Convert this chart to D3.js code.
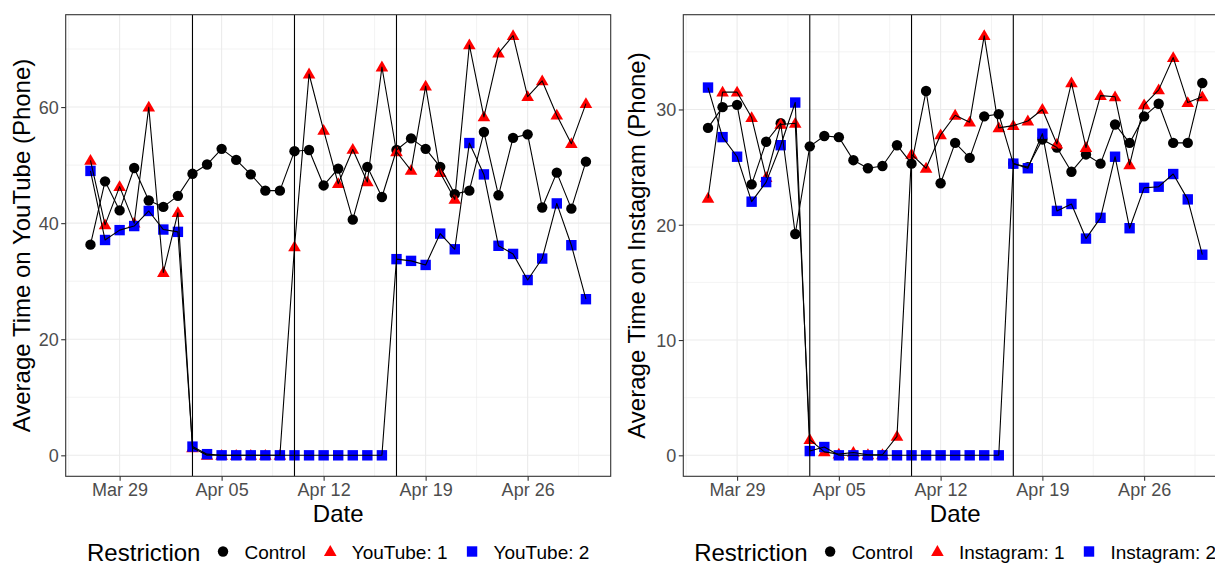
<!DOCTYPE html>
<html><head><meta charset="utf-8">
<script src="https://cdn.jsdelivr.net/npm/d3@7"></script>
<style>
body{margin:0;background:#fff;}
svg{display:block;}
text{font-family:"Liberation Sans",Arial,Helvetica,sans-serif;}
</style>
</head><body>
<svg id="c" width="1215" height="566"></svg>
<script>
// ---------- data ----------
const dates = ["2020-03-27","2020-03-28","2020-03-29","2020-03-30","2020-03-31",
"2020-04-01","2020-04-02","2020-04-03","2020-04-04","2020-04-05","2020-04-06","2020-04-07",
"2020-04-08","2020-04-09","2020-04-10","2020-04-11","2020-04-12","2020-04-13","2020-04-14",
"2020-04-15","2020-04-16","2020-04-17","2020-04-18","2020-04-19","2020-04-20","2020-04-21",
"2020-04-22","2020-04-23","2020-04-24","2020-04-25","2020-04-26","2020-04-27","2020-04-28",
"2020-04-29","2020-04-30"];
const xTickDates = ["2020-03-29","2020-04-05","2020-04-12","2020-04-19","2020-04-26"];
const xTickLabels = ["Mar 29","Apr 05","Apr 12","Apr 19","Apr 26"];
const restrictionDates = ["2020-04-03","2020-04-10","2020-04-17"];

const ytControl = [36.3,47.2,42.2,49.5,43.9,42.8,44.7,48.5,50.1,52.8,50.9,48.4,45.6,45.6,52.4,52.6,46.5,49.4,40.6,49.7,44.5,52.6,54.6,52.8,49.7,45.0,45.6,55.7,44.8,54.7,55.3,42.7,48.7,42.5,50.6];
const yt1 = [50.8,39.7,46.3,40.0,60.0,31.5,41.8,1.3,0,0,0,0,0,0,35.9,65.7,56.0,46.8,52.7,47.1,66.9,52.3,49.1,63.6,48.7,44.1,70.7,58.3,69.3,72.3,61.8,64.5,58.6,53.7,60.6];
const yt2 = [49.0,37.1,38.8,39.5,42.1,38.9,38.5,1.5,0.2,0,0,0,0,0,0,0,0,0,0,0,0,33.8,33.5,32.8,38.2,35.5,53.8,48.4,36.1,34.7,30.2,33.9,43.4,36.2,26.9];

const igControl = [28.4,30.2,30.4,23.5,27.2,28.8,19.2,26.8,27.7,27.6,25.6,24.9,25.1,26.9,25.3,31.6,23.6,27.1,25.8,29.4,29.6,25.3,25.0,27.4,26.7,24.6,26.1,25.3,28.7,27.1,29.4,30.5,27.1,27.1,32.3];
const ig1 = [22.3,31.5,31.5,29.3,24.1,28.7,28.8,1.36,0.3,0.1,0.25,0.05,0.05,1.65,26.1,24.9,27.8,29.5,28.9,36.4,28.4,28.6,29.0,30.0,27.0,32.3,26.7,31.2,31.1,25.2,30.4,31.7,34.5,30.6,31.1];
const ig2 = [31.9,27.6,25.9,22.0,23.7,26.9,30.6,0.37,0.72,0,0,0,0,0,0,0,0,0,0,0,0,25.3,24.9,27.9,21.2,21.8,18.8,20.6,25.9,19.7,23.2,23.3,24.4,22.2,17.4];

const ytLabels = ["Control","YouTube: 1","YouTube: 2"];
const igLabels = ["Control","Instagram: 1","Instagram: 2"];
const ytYTicks = [0,20,40,60];
const igYTicks = [0,10,20,30];
const legendTitle = "Restriction";
const xTitle = "Date";
const ytTitle = "Average Time on YouTube (Phone)";
const igTitle = "Average Time on Instagram (Phone)";

// ---------- drawing ----------
const svg = d3.select("#c");
const parse = d3.utcParse("%Y-%m-%d");
const shapes = ["circle","triangle","square"];
const colors = ["#000000","#FF0000","#0000FF"];

function drawSymbol(g, shape, cx, cy, color){
  if(shape==="circle"){
    g.append("circle").attr("cx",cx).attr("cy",cy).attr("r",5.2).attr("fill",color);
  } else if(shape==="triangle"){
    g.append("path").attr("d",`M${cx},${cy-6.4}L${cx+6.3},${cy+4.4}L${cx-6.3},${cy+4.4}Z`).attr("fill",color);
  } else {
    g.append("rect").attr("x",cx-5.2).attr("y",cy-5.2).attr("width",10.4).attr("height",10.4).attr("fill",color);
  }
}

function drawPanel(cfg, idx){
  const xd = dates.map(parse);
  const x0 = d3.min(xd), x1 = d3.max(xd), span = x1 - x0;
  const x = d3.scaleUtc()
    .domain([new Date(+x0 - span*0.05), new Date(+x1 + span*0.05)])
    .range([cfg.left, cfg.right]);
  const all = cfg.series.flat();
  const ymin = d3.min(all), ymax = d3.max(all), yr = ymax - ymin;
  const y = d3.scaleLinear().domain([ymin - yr*0.05, ymax + yr*0.05]).range([cfg.bottom, cfg.top]);

  const clipId = "clip"+idx;
  svg.append("clipPath").attr("id",clipId).append("rect")
    .attr("x",cfg.left).attr("y",cfg.top).attr("width",cfg.right-cfg.left).attr("height",cfg.bottom-cfg.top);

  const grid = svg.append("g").attr("clip-path",`url(#${clipId})`);
  const ticks = xTickDates.map(parse);
  const half = (ticks[1]-ticks[0])/2;
  const xMinor = [new Date(+ticks[0]-half), ...ticks.map(t=>new Date(+t+half))];
  const ystep = cfg.yTicks[1]-cfg.yTicks[0];
  const yMinor = [cfg.yTicks[0]-ystep/2, ...cfg.yTicks.map(t=>t+ystep/2)];
  grid.selectAll(".xmin").data(xMinor).join("line")
    .attr("x1",d=>x(d)).attr("x2",d=>x(d)).attr("y1",cfg.top).attr("y2",cfg.bottom)
    .attr("stroke","#EBEBEB").attr("stroke-width",0.6);
  grid.selectAll(".ymin").data(yMinor).join("line")
    .attr("x1",cfg.left).attr("x2",cfg.right).attr("y1",d=>y(d)).attr("y2",d=>y(d))
    .attr("stroke","#EBEBEB").attr("stroke-width",0.6);
  grid.selectAll(".xmaj").data(ticks).join("line")
    .attr("x1",d=>x(d)).attr("x2",d=>x(d)).attr("y1",cfg.top).attr("y2",cfg.bottom)
    .attr("stroke","#EBEBEB").attr("stroke-width",1.1);
  grid.selectAll(".ymaj").data(cfg.yTicks).join("line")
    .attr("x1",cfg.left).attr("x2",cfg.right).attr("y1",d=>y(d)).attr("y2",d=>y(d))
    .attr("stroke","#EBEBEB").attr("stroke-width",1.1);

  const plot = svg.append("g").attr("clip-path",`url(#${clipId})`);
  cfg.series.forEach((vals,si)=>{
    const g = plot.append("g");
    vals.forEach((v,i)=>drawSymbol(g, shapes[si], x(xd[i]), y(v), colors[si]));
  });
  const line = d3.line().x((d,i)=>x(xd[i])).y(d=>y(d));
  cfg.series.forEach(vals=>{
    plot.append("path").datum(vals).attr("d",line).attr("fill","none")
      .attr("stroke","#000").attr("stroke-width",1.1).attr("stroke-linejoin","round");
  });
  plot.selectAll(".vl").data(restrictionDates.map(parse)).join("line")
    .attr("x1",d=>x(d)).attr("x2",d=>x(d)).attr("y1",cfg.top).attr("y2",cfg.bottom)
    .attr("stroke","#000").attr("stroke-width",1.1);

  svg.append("rect").attr("x",cfg.left).attr("y",cfg.top)
    .attr("width",cfg.right-cfg.left).attr("height",cfg.bottom-cfg.top)
    .attr("fill","none").attr("stroke","#333333").attr("stroke-width",1.1);

  const ax = svg.append("g").attr("transform",`translate(0,${cfg.bottom})`)
    .call(d3.axisBottom(x).tickValues(ticks).tickSize(4.5).tickPadding(2.4)
      .tickFormat((d,i)=>xTickLabels[i]));
  const ay = svg.append("g").attr("transform",`translate(${cfg.left},0)`)
    .call(d3.axisLeft(y).tickValues(cfg.yTicks).tickSize(4.5).tickPadding(2.5).tickFormat(d3.format("d")));
  [ax,ay].forEach(a=>{
    a.select(".domain").remove();
    a.attr("font-family",null).attr("font-size",null);
    a.selectAll("line").attr("stroke","#333333").attr("stroke-width",1.1);
    a.selectAll("text").attr("fill","#4D4D4D").style("font-size","18px");
  });
  ay.selectAll("text").attr("dy","0.35em");

  const cx = (cfg.left+cfg.right)/2, cy=(cfg.top+cfg.bottom)/2;
  svg.append("text").attr("x",cx).attr("y",521.7).attr("text-anchor","middle")
    .style("font-size","24px").attr("fill","#000").text(xTitle);
  svg.append("text").attr("transform",`translate(${cfg.yTitleX},${cy}) rotate(-90)`)
    .attr("text-anchor","middle").style("font-size","24px").attr("fill","#000").text(cfg.yTitle);

  const lg = svg.append("g");
  const t = lg.append("text").attr("x",0).attr("y",561).style("font-size","24px").text(legendTitle);
  let pos = t.node().getComputedTextLength() + 22.6;
  cfg.labels.forEach((lab,i)=>{
    drawSymbol(lg, shapes[i], pos, 551.5, colors[i]);
    pos += 21.5;
    const tt = lg.append("text").attr("x",pos).attr("y",558.5).style("font-size","19px").text(lab);
    pos += tt.node().getComputedTextLength();
    if(i<cfg.labels.length-1) pos += 24.5;
  });
  lg.attr("transform",`translate(${cx - pos/2},0)`);
}

drawPanel({left:65.7,right:610.7,top:14.7,bottom:476.3,series:[ytControl,yt1,yt2],
  labels:ytLabels,yTicks:ytYTicks,yTitle:ytTitle,yTitleX:30},0);
drawPanel({left:683.3,right:1227,top:14.7,bottom:476.3,series:[igControl,ig1,ig2],
  labels:igLabels,yTicks:igYTicks,yTitle:igTitle,yTitleX:645},1);
</script>
</body></html>
